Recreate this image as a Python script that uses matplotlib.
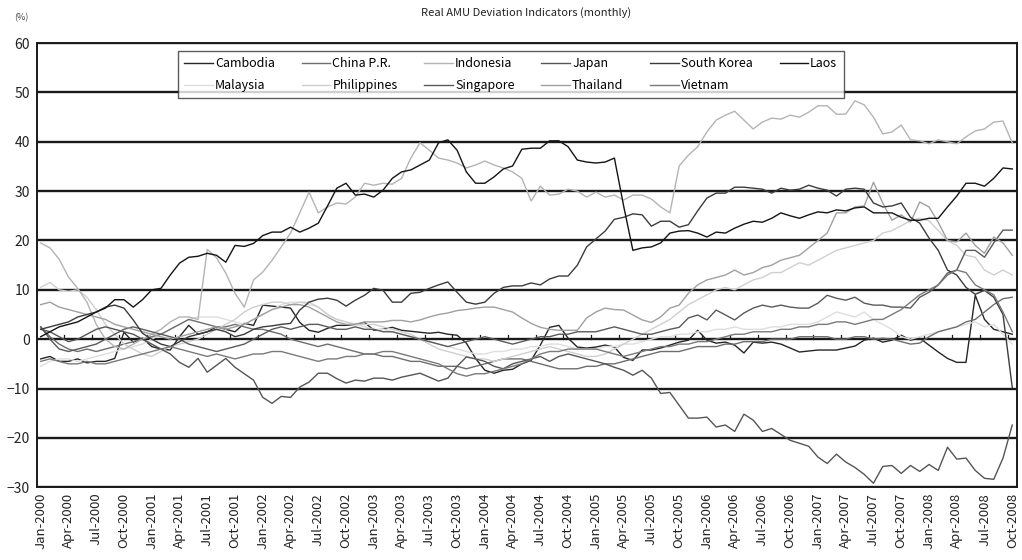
import numpy as np
import pandas as pd
import matplotlib
matplotlib.use("Agg")
import matplotlib.pyplot as plt

plt.rcParams['font.family'] = ['Noto Sans CJK JP', 'DejaVu Sans']

# monthly axis Jan-2000 .. Oct-2008
months = pd.date_range('2000-01-01', '2008-10-01', freq='MS')
tick_labels = [d.strftime('%b-%Y') for d in months]

# values (%), one row per year
cambodia = [
    -4.0, -3.5, -4.5, -4.5, -4.0, -4.8, -4.5, -4.5, -3.9, 1.4, -0.6, 0.2,
    -1.5, -2.0, -2.2, 0.5, 2.8, 1.0, 1.5, 2.5, 2.0, 1.5, 3.2, 2.8,
    6.9, 6.7, 6.5, 6.3, 3.4, 1.8, 1.4, 2.2, 2.8, 2.8, 3.0, 3.4,
    1.8, 2.0, 2.4, 1.8, 1.6, 1.4, 1.2, 1.4, 1.0, 0.8, -0.8, -3.9,
    -6.3, -6.9, -6.3, -6.1, -5.0, -4.3, -1.2, 2.4, 2.8, 0.2, -1.6, -1.8,
    -1.6, -1.2, -1.6, -3.7, -4.3, -2.2, -2.2, -1.8, -1.2, -0.6, -0.2, 1.8,
    -0.2, -0.8, -0.6, -1.2, -2.8, -0.6, -0.8, -0.6, -1.0, -1.8, -2.6, -2.4,
    -2.2, -2.2, -2.2, -1.8, -1.4, -0.2, 0.2, -0.6, -0.2, 0.8, -0.2, 0.2,
    -1.2, -2.6, -3.9, -4.7, -4.7, 8.9, 4.0, 2.0, 1.5, 1.0]
china = [
    2.5, 0.5, -1.0, -2.0, -2.5, -2.0, -2.5, -2.0, -1.5, -1.0, -0.5, 0.0,
    0.5, 1.0, 2.0, 3.0, 4.0, 3.5, 3.0, 2.5, 2.5, 3.0, 2.5, 2.0,
    2.0, 1.5, 1.0, 0.0, -0.5, -1.0, -1.5, -1.0, -1.5, -2.0, -2.5, -3.0,
    -3.0, -3.5, -3.5, -4.0, -4.5, -4.5, -5.0, -5.5, -5.5, -5.5, -6.0, -5.5,
    -5.0, -4.5, -4.0, -4.0, -4.0, -4.5, -5.0, -5.5, -6.0, -6.0, -6.0, -5.5,
    -5.5, -5.0, -5.0, -4.5, -4.0, -3.5, -3.0, -2.5, -2.5, -2.5, -2.0, -1.5,
    -1.5, -1.5, -1.0, -1.0, -0.5, -0.5, -0.5, 0.0, 0.0, 0.0, 0.5, 0.5,
    0.5, 0.5, 0.0, 0.0, 0.5, 0.5, 0.0, 0.2, 0.0, -0.5, -1.0, -0.8,
    0.5, 1.5, 2.0, 2.5, 3.5, 4.0, 5.5, 7.0, 8.2, 8.5]
indonesia = [
    19.5, 18.5, 16.2, 12.6, 10.3, 7.5, 3.0, 0.0, -1.5, -2.0, -1.0, 0.0,
    1.0, 2.0, 3.5, 4.5, 4.5, 4.0, 18.2, 16.5, 13.4, 9.3, 6.5, 12.0,
    13.6, 16.0, 18.7, 21.5, 25.6, 29.8, 25.6, 26.8, 27.6, 27.4, 28.8, 31.6,
    31.2, 31.6, 31.4, 32.6, 36.7, 39.8, 38.3, 36.7, 36.3, 35.7, 34.7, 35.3,
    36.1, 35.3, 34.7, 33.9, 32.6, 28.0, 31.0, 29.2, 29.4, 30.4, 30.0, 28.8,
    29.8, 28.8, 29.2, 28.2, 29.2, 29.2, 28.4, 26.8, 25.6, 35.1, 37.3, 39.0,
    42.0, 44.4, 45.4, 46.2, 44.4, 42.6, 44.0, 44.8, 44.6, 45.4, 45.0, 46.0,
    47.3, 47.3, 45.6, 45.6, 48.3, 47.5, 45.0, 41.6, 42.0, 43.4, 40.4, 40.2,
    39.6, 40.4, 40.0, 39.6, 41.0, 42.2, 42.6, 44.0, 44.2, 39.8]
japan = [
    2.0, 1.5, 0.5, -0.5, 0.0, 1.0, 2.0, 2.5, 2.0, 1.5, 1.0, 0.0,
    -1.0, -2.0, -3.0, -4.7, -5.7, -3.9, -6.7, -5.3, -3.9, -5.7, -7.0, -8.3,
    -11.8, -13.0, -11.6, -11.8, -9.7, -8.7, -6.9, -6.9, -8.0, -8.9, -8.3, -8.5,
    -7.9, -7.9, -8.3, -7.7, -7.3, -6.9, -7.7, -8.5, -7.9, -5.5, -3.6, -4.0,
    -4.5, -5.5, -6.0, -5.0, -4.5, -4.0, -3.5, -4.5, -3.5, -3.0, -3.5, -4.0,
    -4.5, -5.0, -5.7, -6.3, -7.3, -6.3, -7.9, -11.0, -10.8, -13.4, -16.0, -16.0,
    -15.8, -17.8, -17.4, -18.7, -15.2, -16.4, -18.7, -18.1, -19.3, -20.5, -21.1, -21.7,
    -23.9, -25.2, -23.3, -24.9, -26.0, -27.4, -29.2, -25.8, -25.6, -27.2, -25.6, -26.8,
    -25.4, -26.6, -21.9, -24.3, -24.1, -26.6, -28.2, -28.4, -24.1, -17.4]
south_korea = [
    2.0, 2.5, 3.0, 3.5, 4.5, 5.0, 5.5, 6.5, 6.9, 6.3, 3.9, 1.2,
    0.0, -1.0, -1.5, -0.5, 0.5, 1.0, 1.5, 2.0, 1.5, 0.5, 1.0, 2.0,
    2.5, 2.7, 3.0, 3.2, 5.9, 7.5, 8.1, 8.3, 7.9, 6.7, 7.9, 8.9,
    10.3, 9.9, 7.5, 7.5, 9.3, 9.5, 10.3, 11.0, 11.6, 9.5, 7.5, 7.1,
    7.5, 9.3, 10.5, 10.8, 10.8, 11.4, 11.0, 12.2, 12.8, 12.8, 15.0, 18.7,
    20.3, 21.9, 24.3, 24.7, 25.4, 25.2, 22.9, 23.9, 23.9, 22.7, 23.2, 26.0,
    28.6, 29.6, 29.6, 30.8, 30.8, 30.6, 30.4, 29.6, 30.6, 30.2, 30.4, 31.2,
    30.6, 30.2, 29.0, 30.4, 30.6, 30.4, 27.6, 26.8, 27.0, 27.6, 24.7, 23.5,
    20.5, 18.0, 14.0, 13.0, 10.5, 9.1, 9.9, 8.5, 5.0, -9.8]
laos = [
    0.5, 1.5, 2.5, 3.0, 3.5, 4.5, 5.5, 6.3, 8.0, 8.0, 6.5, 8.0,
    10.0, 10.3, 13.0, 15.4, 16.6, 16.8, 17.4, 17.0, 15.6, 19.0, 18.8, 19.4,
    21.0, 21.7, 21.7, 22.7, 21.7, 22.5, 23.5, 27.0, 30.6, 31.6, 29.2, 29.4,
    28.8, 30.2, 32.6, 33.9, 34.3, 35.3, 36.3, 39.8, 40.4, 38.3, 33.9, 31.6,
    31.6, 32.9, 34.5, 35.1, 38.5, 38.7, 38.7, 40.2, 40.2, 39.0, 36.3, 35.9,
    35.7, 35.9, 36.7, 27.0, 18.0, 18.5, 18.7, 19.5, 21.5, 21.9, 22.0, 21.5,
    20.7, 21.7, 21.5, 22.5, 23.3, 23.9, 23.7, 24.5, 25.6, 25.0, 24.5, 25.2,
    25.8, 25.6, 26.2, 26.0, 26.6, 26.8, 25.6, 25.6, 25.6, 24.7, 24.1, 24.1,
    24.5, 24.5, 26.8, 29.0, 31.6, 31.6, 31.0, 32.6, 34.7, 34.5]
malaysia = [
    -5.5, -4.5, -4.0, -4.0, -4.5, -4.0, -3.5, -3.0, -2.5, -2.0, -1.5, -1.0,
    0.0, 1.0, 2.0, 3.0, 4.0, 4.5, 4.5, 4.5, 4.0, 3.5, 3.0, 4.0,
    5.0, 6.0, 7.0, 7.5, 7.5, 7.0, 6.5, 5.0, 4.0, 3.5, 3.0, 2.5,
    2.0, 2.0, 1.5, 1.0, 0.5, 0.0, -0.5, -1.0, -1.5, -2.0, -2.5, -3.0,
    -3.0, -2.5, -2.5, -2.0, -2.0, -1.5, -1.5, -1.0, -1.0, -1.5, -2.0, -2.0,
    -2.0, -1.5, -1.5, -1.0, -1.0, -0.5, 0.0, 0.5, 0.5, 1.0, 1.0, 1.5,
    1.5, 2.0, 2.0, 2.5, 2.0, 2.0, 2.0, 2.5, 2.5, 3.0, 3.0, 3.0,
    3.5, 4.5, 5.5, 5.0, 4.5, 5.5, 4.0, 3.0, 2.0, 0.5, 0.0, 0.5,
    1.0, 1.5, 2.0, 2.5, 3.0, 3.5, 2.5, 3.0, 1.0, -1.0]
philippines = [
    10.5, 11.5, 10.0, 9.7, 10.0, 8.5, 6.0, 3.0, 1.0, -1.0, -2.0, -3.0,
    -3.5, -2.5, -1.5, -1.0, -0.5, 0.0, 1.0, 2.0, 3.0, 4.0, 5.5, 6.5,
    7.0, 7.5, 7.5, 7.0, 7.5, 7.5, 6.5, 5.0, 4.0, 3.5, 3.0, 3.0,
    3.0, 2.5, 2.0, 1.5, 1.0, 0.0, -1.0, -2.0, -2.5, -3.0, -3.5, -4.0,
    -4.0, -4.5, -4.0, -3.5, -3.0, -2.5, -2.0, -1.5, -2.0, -2.5, -3.0, -3.5,
    -3.5, -3.0, -2.0, -1.0, 0.0, 1.0, 2.0, 3.0, 4.0, 5.5, 7.0, 8.0,
    9.0, 10.0, 10.5, 10.0, 11.0, 12.0, 12.5, 13.5, 13.5, 14.5, 15.5, 15.0,
    16.0, 17.0, 18.0, 18.5, 19.0, 19.5, 20.0, 21.5, 22.0, 23.0, 24.0, 24.5,
    24.0, 22.0, 20.0, 19.0, 17.0, 16.6, 14.0, 13.0, 14.0, 13.0]
singapore = [
    2.5, 0.0, -2.0, -2.5, -2.0, -1.5, -1.0, 0.0, 1.0, 2.0, 2.5, 2.0,
    1.5, 1.0, 0.5, 0.0, -1.0, -1.5, -2.0, -2.5, -2.0, -1.5, -1.0, 0.0,
    1.0, 2.0, 2.5, 2.0, 2.5, 3.0, 3.0, 2.5, 2.0, 2.0, 2.5, 2.0,
    2.0, 1.5, 1.5, 1.0, 0.5, 0.0, -0.5, -1.0, -1.5, -1.0, -0.5, 0.0,
    0.5, 0.0, -0.5, -1.0, -0.5, 0.0, 0.5, 0.5, 1.0, 1.0, 1.5, 1.5,
    1.5, 2.0, 2.5, 2.0, 1.5, 1.0, 1.0, 1.5, 2.0, 2.4, 4.3, 4.9,
    3.9, 5.9, 4.9, 3.9, 5.3, 6.3, 6.9, 6.5, 6.9, 6.5, 6.3, 6.3,
    7.3, 8.9, 8.3, 7.9, 8.5, 7.3, 6.9, 6.9, 6.5, 6.5, 6.3, 8.5,
    9.5, 11.0, 13.4, 14.0, 18.0, 18.0, 16.6, 19.5, 22.1, 22.1]
thailand = [
    7.0, 7.5, 6.5, 6.0, 5.5, 5.0, 4.5, 4.0, 3.0, 2.5, 2.0, 1.5,
    1.0, 0.5, 0.0, 0.5, 1.0, 1.5, 2.0, 2.5, 2.0, 2.5, 3.0, 4.0,
    5.0, 6.0, 6.5, 7.0, 7.0, 6.5, 5.5, 4.5, 3.5, 3.0, 3.0, 3.5,
    3.5, 3.5, 3.8, 3.8, 3.5, 3.9, 4.5, 5.0, 5.3, 5.8, 6.0, 6.3,
    6.5, 6.5, 6.0, 5.5, 4.3, 3.2, 2.4, 2.0, 1.8, 1.8, 1.8, 4.3,
    5.5, 6.3, 6.0, 5.9, 4.9, 3.9, 3.4, 4.5, 6.3, 6.9, 9.3, 11.0,
    12.0, 12.5, 13.0, 14.0, 13.0, 13.5, 14.5, 15.0, 16.0, 16.5, 17.0, 18.5,
    20.0, 21.5, 25.6, 25.6, 26.8, 27.0, 31.8, 27.6, 24.1, 25.2, 23.7, 27.8,
    26.8, 23.7, 20.0, 19.7, 21.5, 19.0, 17.4, 20.7, 19.5, 17.0]
vietnam = [
    -4.5, -4.0, -4.5, -5.0, -5.0, -4.5, -5.0, -5.0, -4.5, -4.0, -3.5, -3.0,
    -2.5, -2.0, -1.5, -2.0, -2.5, -3.0, -3.5, -3.0, -3.5, -4.0, -3.5, -3.0,
    -3.0, -2.5, -2.5, -3.0, -3.5, -4.0, -4.5, -4.0, -4.0, -3.5, -3.5, -3.0,
    -3.0, -2.5, -2.5, -3.0, -3.5, -4.0, -4.5, -5.0, -6.0, -7.0, -7.5, -7.0,
    -7.0, -6.5, -6.0, -5.5, -5.0, -4.0, -3.0, -2.5, -2.5, -2.0, -2.0, -2.0,
    -2.0, -2.5, -3.0, -3.5, -3.0, -2.5, -2.0, -1.5, -1.5, -1.0, -1.0, -0.5,
    -0.5, 0.0, 0.5, 1.0, 1.0, 1.5, 1.5, 1.5, 2.0, 2.0, 2.5, 2.5,
    3.0, 3.0, 3.5, 3.5, 3.0, 3.5, 4.0, 4.0, 5.0, 6.0, 7.5, 9.0,
    10.0, 11.0, 13.0, 14.0, 13.5, 11.0, 10.0, 9.0, 5.5, 1.5]

# legend order is column-wise for a 6-column, 2-row legend
series = [
    ('Cambodia', cambodia, '#262626'),
    ('Malaysia', malaysia, '#dedede'),
    ('China P.R.', china, '#6e6e6e'),
    ('Philippines', philippines, '#cfcfcf'),
    ('Indonesia', indonesia, '#b4b4b4'),
    ('Singapore', singapore, '#5a5a5a'),
    ('Japan', japan, '#555555'),
    ('Thailand', thailand, '#a0a0a0'),
    ('South Korea', south_korea, '#3c3c3c'),
    ('Vietnam', vietnam, '#7a7a7a'),
    ('Laos', laos, '#141414'),
]

fig = plt.figure(figsize=(10.22, 5.60), dpi=100)
ax = fig.add_axes([0.0362, 0.130, 0.9588, 0.793])

x = np.arange(len(months))
for name, vals, col in series:
    ax.plot(x, vals, color=col, lw=1.0, label=name)

# horizontal grid + zero axis with tick marks between quarters
for v in range(-30, 61, 10):
    ax.axhline(v, color='#1a1a1a', lw=1.7, zorder=0)
for t in np.arange(2.5, len(months), 3):
    ax.plot([t, t], [0, 0.9], color='#1a1a1a', lw=0.9, zorder=0)

ax.set_xlim(-0.4, 105.5)
ax.set_ylim(-30, 60)
ax.set_yticks(range(-30, 61, 10))
ax.tick_params(axis='y', length=0, labelsize=10, pad=5, colors='#222222')
ax.set_xticks(x[::3])
ax.set_xticklabels(tick_labels[::3], rotation=90, fontsize=9.5, color='#222222')
ax.tick_params(axis='x', length=0, pad=4)
for s in ax.spines.values():
    s.set_color('#1a1a1a')
    s.set_linewidth(1.4)

fig.text(0.515, 0.978, 'Real AMU Deviation Indicators (monthly)', ha='center', va='center',
         fontsize=8, color='#222222')
fig.text(0.021, 0.968, '(%)', ha='center', va='center', fontsize=6.5, color='#444444')

leg = ax.legend(ncol=6, loc='upper left', bbox_to_anchor=(0.144, 0.982),
                fontsize=9, frameon=True, fancybox=False, handlelength=2.3,
                handletextpad=0.15, columnspacing=2.15, labelspacing=0.7,
                borderpad=0.5, borderaxespad=0)
leg.get_frame().set_edgecolor('#333333')
leg.get_frame().set_linewidth(1.0)

fig.savefig('out.png', dpi=100)
